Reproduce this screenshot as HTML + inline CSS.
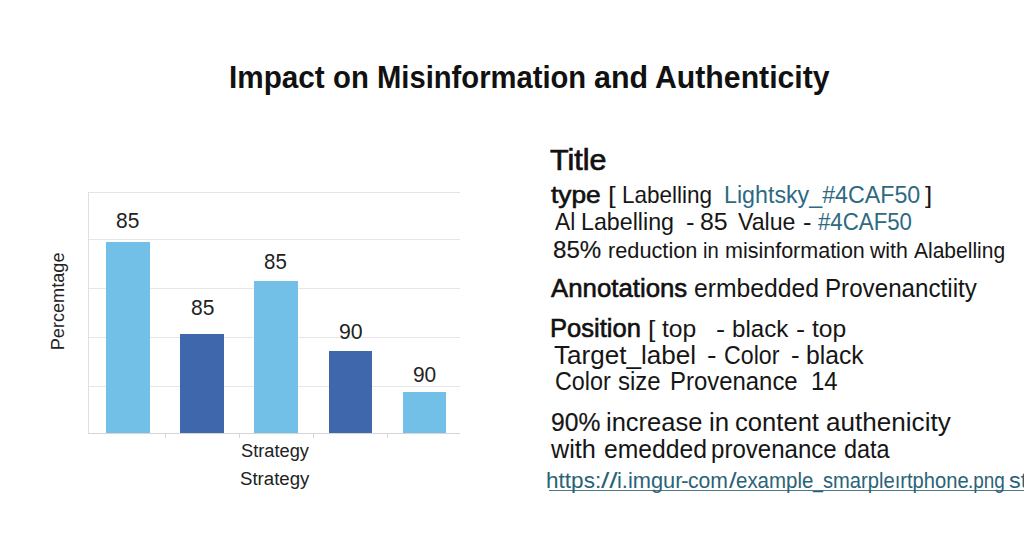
<!DOCTYPE html>
<html><head><meta charset="utf-8"><style>
html,body{margin:0;padding:0;background:#fff;width:1024px;height:559px;overflow:hidden}
body{position:relative;font-family:"Liberation Sans",sans-serif}
.t{position:absolute;white-space:pre;transform-origin:0 0}
.r{position:absolute}
.g{position:absolute;left:88px;width:372px;height:1px;background:#e6e6e6}
</style></head><body>
<div class="r" style="left:88px;top:192px;width:372px;height:1px;background:#e4e4e4"></div>
<div class="g" style="top:239px"></div>
<div class="g" style="top:288px"></div>
<div class="g" style="top:337px"></div>
<div class="g" style="top:386px"></div>
<div class="r" style="left:88px;top:192px;width:1px;height:242px;background:#e0e0e0"></div>
<div class="r" style="left:106px;top:242px;width:44px;height:191px;background:#72c0e8"></div>
<div class="r" style="left:180px;top:334px;width:44px;height:99px;background:#3f67ac"></div>
<div class="r" style="left:254px;top:281px;width:44px;height:152px;background:#72c0e8"></div>
<div class="r" style="left:329px;top:351px;width:43px;height:82px;background:#3f67ac"></div>
<div class="r" style="left:403px;top:392px;width:43px;height:41px;background:#72c0e8"></div>
<div class="r" style="left:88px;top:433px;width:372px;height:1px;background:#d6d6d6"></div>
<div class="r" style="left:165px;top:434px;width:1px;height:4px;background:#d6d6d6"></div>
<div class="r" style="left:239px;top:434px;width:1px;height:4px;background:#d6d6d6"></div>
<div class="r" style="left:313px;top:434px;width:1px;height:4px;background:#d6d6d6"></div>
<div class="r" style="left:387px;top:434px;width:1px;height:4px;background:#d6d6d6"></div>
<div class="t" style="left:0;top:0;font-size:17.5px;line-height:17.5px;color:#222;transform:translate(50.3px,350.24px) rotate(-90deg) scaleX(1.036)">Percemtage</div>
<div class="r" style="left:549px;top:489.5px;width:475px;height:1.2px;background:#4a7888"></div>
<span class="t" style="left:228.73px;top:62.00px;font-size:31px;line-height:31px;font-weight:bold;color:#111;transform:scaleX(0.9583)">Impact</span>
<span class="t" style="left:333.31px;top:62.00px;font-size:31px;line-height:31px;font-weight:bold;color:#111;transform:scaleX(0.9451)">on</span>
<span class="t" style="left:376.72px;top:62.00px;font-size:31px;line-height:31px;font-weight:bold;color:#111;transform:scaleX(0.9414)">Misinformation</span>
<span class="t" style="left:594.15px;top:62.00px;font-size:31px;line-height:31px;font-weight:bold;color:#111;transform:scaleX(0.9808)">and</span>
<span class="t" style="left:655.46px;top:62.00px;font-size:31px;line-height:31px;font-weight:bold;color:#111;transform:scaleX(0.9750)">Authenticity</span>
<span class="t" style="left:115.65px;top:210.00px;font-size:21.2px;line-height:21.2px;font-weight:normal;color:#222;transform:scaleX(0.9883)">85</span>
<span class="t" style="left:191.17px;top:297.00px;font-size:21.2px;line-height:21.2px;font-weight:normal;color:#222;transform:scaleX(0.9926)">85</span>
<span class="t" style="left:264.30px;top:251.00px;font-size:21.2px;line-height:21.2px;font-weight:normal;color:#222;transform:scaleX(0.9658)">85</span>
<span class="t" style="left:338.58px;top:321.00px;font-size:21.2px;line-height:21.2px;font-weight:normal;color:#222;transform:scaleX(1.0045)">90</span>
<span class="t" style="left:413.02px;top:364.00px;font-size:21.2px;line-height:21.2px;font-weight:normal;color:#222;transform:scaleX(0.9862)">90</span>
<span class="t" style="left:241.30px;top:442.00px;font-size:18.8px;line-height:18.8px;font-weight:normal;color:#222;transform:scaleX(0.9718)">Strategy</span>
<span class="t" style="left:240.25px;top:469.00px;font-size:19.2px;line-height:19.2px;font-weight:normal;color:#222;transform:scaleX(0.9715)">Strategy</span>
<span class="t" style="left:550.49px;top:145.00px;font-size:29.5px;line-height:29.5px;font-weight:normal;color:#111;transform:scaleX(1.0345);-webkit-text-stroke:0.7px #111">Title</span>
<span class="t" style="left:550.80px;top:183.00px;font-size:24px;line-height:24px;font-weight:normal;color:#111;transform:scaleX(1.0954);-webkit-text-stroke:0.6px #111">type</span>
<span class="t" style="left:608.28px;top:183.00px;font-size:24px;line-height:24px;font-weight:normal;color:#161616;transform:scaleX(1.1473)">[</span>
<span class="t" style="left:622.45px;top:183.00px;font-size:24px;line-height:24px;font-weight:normal;color:#161616;transform:scaleX(0.9372)">Labelling</span>
<span class="t" style="left:723.51px;top:183.00px;font-size:24.2px;line-height:24.2px;font-weight:normal;color:#2d6a82;transform:scaleX(0.9605)">Lightsky_#4CAF50</span>
<span class="t" style="left:925.34px;top:183.00px;font-size:24px;line-height:24px;font-weight:normal;color:#161616;transform:scaleX(1.0728)">]</span>
<span class="t" style="left:555.26px;top:210.00px;font-size:24.6px;line-height:24.6px;font-weight:normal;color:#161616;transform:scaleX(0.9280)">Al</span>
<span class="t" style="left:580.53px;top:210.00px;font-size:24.6px;line-height:24.6px;font-weight:normal;color:#161616;transform:scaleX(0.9445)">Labelling</span>
<span class="t" style="left:685.76px;top:210.00px;font-size:24.6px;line-height:24.6px;font-weight:normal;color:#161616;transform:scaleX(1.0452)">-</span>
<span class="t" style="left:699.84px;top:210.00px;font-size:24.6px;line-height:24.6px;font-weight:normal;color:#161616;transform:scaleX(1.0128)">85</span>
<span class="t" style="left:737.92px;top:210.00px;font-size:24.6px;line-height:24.6px;font-weight:normal;color:#161616;transform:scaleX(0.9413)">Value</span>
<span class="t" style="left:802.94px;top:210.00px;font-size:24.6px;line-height:24.6px;font-weight:normal;color:#161616;transform:scaleX(1.0350)">-</span>
<span class="t" style="left:818.48px;top:210.00px;font-size:24.6px;line-height:24.6px;font-weight:normal;color:#2d6a82;transform:scaleX(0.9045)">#4CAF50</span>
<span class="t" style="left:552.89px;top:238.00px;font-size:24.4px;line-height:24.4px;font-weight:normal;color:#161616;transform:scaleX(0.9873);-webkit-text-stroke:0.2px #161616">85%</span>
<span class="t" style="left:608.44px;top:240.00px;font-size:22.3px;line-height:22.3px;font-weight:normal;color:#161616;transform:scaleX(0.9746)">reduction</span>
<span class="t" style="left:702.79px;top:240.00px;font-size:22.3px;line-height:22.3px;font-weight:normal;color:#161616;transform:scaleX(0.9058)">in</span>
<span class="t" style="left:724.55px;top:240.00px;font-size:22.3px;line-height:22.3px;font-weight:normal;color:#161616;transform:scaleX(0.9644)">misinformation</span>
<span class="t" style="left:870.41px;top:240.00px;font-size:22.3px;line-height:22.3px;font-weight:normal;color:#161616;transform:scaleX(0.9540)">with</span>
<span class="t" style="left:914.03px;top:240.00px;font-size:22.3px;line-height:22.3px;font-weight:normal;color:#161616;transform:scaleX(0.9423)">Alabelling</span>
<span class="t" style="left:551.08px;top:276.00px;font-size:25.5px;line-height:25.5px;font-weight:normal;color:#111;transform:scaleX(1.0114);-webkit-text-stroke:0.6px #111">Annotations</span>
<span class="t" style="left:694.45px;top:276.00px;font-size:25px;line-height:25px;font-weight:normal;color:#161616;transform:scaleX(0.9888)">ermbedded</span>
<span class="t" style="left:825.06px;top:276.00px;font-size:25px;line-height:25px;font-weight:normal;color:#161616;transform:scaleX(0.9669)">Provenanctiity</span>
<span class="t" style="left:550.12px;top:316.00px;font-size:25.2px;line-height:25.2px;font-weight:normal;color:#111;transform:scaleX(1.0142);-webkit-text-stroke:0.6px #111">Position</span>
<span class="t" style="left:647.96px;top:317.00px;font-size:24.5px;line-height:24.5px;font-weight:normal;color:#161616;transform:scaleX(1.0804)">[</span>
<span class="t" style="left:662.03px;top:317.00px;font-size:24.5px;line-height:24.5px;font-weight:normal;color:#161616;transform:scaleX(1.0075)">top</span>
<span class="t" style="left:715.75px;top:317.00px;font-size:24.5px;line-height:24.5px;font-weight:normal;color:#161616;transform:scaleX(1.1151)">-</span>
<span class="t" style="left:731.50px;top:317.00px;font-size:24.5px;line-height:24.5px;font-weight:normal;color:#161616;transform:scaleX(0.9838)">black</span>
<span class="t" style="left:795.75px;top:317.00px;font-size:24.5px;line-height:24.5px;font-weight:normal;color:#161616;transform:scaleX(1.1151)">-</span>
<span class="t" style="left:812.33px;top:317.00px;font-size:24.5px;line-height:24.5px;font-weight:normal;color:#161616;transform:scaleX(1.0068)">top</span>
<span class="t" style="left:554.43px;top:343.00px;font-size:25px;line-height:25px;font-weight:normal;color:#161616;transform:scaleX(1.0419)">Target_label</span>
<span class="t" style="left:707.14px;top:343.00px;font-size:25px;line-height:25px;font-weight:normal;color:#161616;transform:scaleX(1.1468)">-</span>
<span class="t" style="left:724.28px;top:343.00px;font-size:25px;line-height:25px;font-weight:normal;color:#161616;transform:scaleX(0.9281)">Color</span>
<span class="t" style="left:791.16px;top:343.00px;font-size:25px;line-height:25px;font-weight:normal;color:#161616;transform:scaleX(1.0310)">-</span>
<span class="t" style="left:805.54px;top:343.00px;font-size:25px;line-height:25px;font-weight:normal;color:#161616;transform:scaleX(0.9877)">black</span>
<span class="t" style="left:555.27px;top:369.00px;font-size:25px;line-height:25px;font-weight:normal;color:#161616;transform:scaleX(0.9334)">Color</span>
<span class="t" style="left:618.34px;top:369.00px;font-size:25px;line-height:25px;font-weight:normal;color:#161616;transform:scaleX(0.9593)">size</span>
<span class="t" style="left:670.19px;top:369.00px;font-size:25px;line-height:25px;font-weight:normal;color:#161616;transform:scaleX(0.9568)">Provenance</span>
<span class="t" style="left:810.86px;top:369.00px;font-size:25px;line-height:25px;font-weight:normal;color:#161616;transform:scaleX(0.9566)">14</span>
<span class="t" style="left:551.39px;top:409.00px;font-size:26px;line-height:26px;font-weight:normal;color:#161616;transform:scaleX(0.9482);-webkit-text-stroke:0.2px #161616">90%</span>
<span class="t" style="left:606.44px;top:409.00px;font-size:26px;line-height:26px;font-weight:normal;color:#161616;transform:scaleX(0.9810)">increase</span>
<span class="t" style="left:709.31px;top:409.00px;font-size:26px;line-height:26px;font-weight:normal;color:#161616;transform:scaleX(0.9946)">in</span>
<span class="t" style="left:735.43px;top:409.00px;font-size:26px;line-height:26px;font-weight:normal;color:#161616;transform:scaleX(0.9847)">content</span>
<span class="t" style="left:825.79px;top:409.00px;font-size:26px;line-height:26px;font-weight:normal;color:#161616;transform:scaleX(1.0034)">authenicity</span>
<span class="t" style="left:551.37px;top:437.00px;font-size:25.6px;line-height:25.6px;font-weight:normal;color:#161616;transform:scaleX(0.9860)">with</span>
<span class="t" style="left:603.57px;top:437.00px;font-size:25.6px;line-height:25.6px;font-weight:normal;color:#161616;transform:scaleX(0.9647)">emedded</span>
<span class="t" style="left:711.49px;top:437.00px;font-size:25.6px;line-height:25.6px;font-weight:normal;color:#161616;transform:scaleX(0.9398)">provenance</span>
<span class="t" style="left:843.52px;top:437.00px;font-size:25.6px;line-height:25.6px;font-weight:normal;color:#161616;transform:scaleX(0.9152)">data</span>
<span class="t" style="left:546.49px;top:470.00px;font-size:22.5px;line-height:22.5px;font-weight:normal;color:#2a6378;transform:scaleX(1.0028)">https:</span>
<span class="t" style="left:601.03px;top:470.00px;font-size:22.5px;line-height:22.5px;font-weight:normal;color:#2a6378;transform:scaleX(1.3304)">//</span>
<span class="t" style="left:617.04px;top:470.00px;font-size:22.5px;line-height:22.5px;font-weight:normal;color:#2a6378;transform:scaleX(0.9697)">i.imgur</span>
<span class="t" style="left:681.12px;top:470.00px;font-size:22.5px;line-height:22.5px;font-weight:normal;color:#2a6378;transform:scaleX(1.0175)">-</span>
<span class="t" style="left:688.26px;top:470.00px;font-size:22.5px;line-height:22.5px;font-weight:normal;color:#2a6378;transform:scaleX(0.9408)">com</span>
<span class="t" style="left:728.93px;top:470.00px;font-size:22.5px;line-height:22.5px;font-weight:normal;color:#2a6378;transform:scaleX(1.2154)">/</span>
<span class="t" style="left:736.08px;top:470.00px;font-size:22.5px;line-height:22.5px;font-weight:normal;color:#2a6378;transform:scaleX(0.9100)">example</span>
<span class="t" style="left:813.14px;top:470.00px;font-size:22.5px;line-height:22.5px;font-weight:normal;color:#2a6378;transform:scaleX(0.7933)">_</span>
<span class="t" style="left:822.92px;top:470.00px;font-size:22.5px;line-height:22.5px;font-weight:normal;color:#2a6378;transform:scaleX(0.8954)">smarpleırtphone</span>
<span class="t" style="left:967.90px;top:470.00px;font-size:22.5px;line-height:22.5px;font-weight:normal;color:#2a6378;transform:scaleX(0.8417)">.png</span>
<span class="t" style="left:1008.75px;top:470.00px;font-size:22.5px;line-height:22.5px;font-weight:normal;color:#2a6378;transform:scaleX(1.0412)">st</span>
</body></html>
